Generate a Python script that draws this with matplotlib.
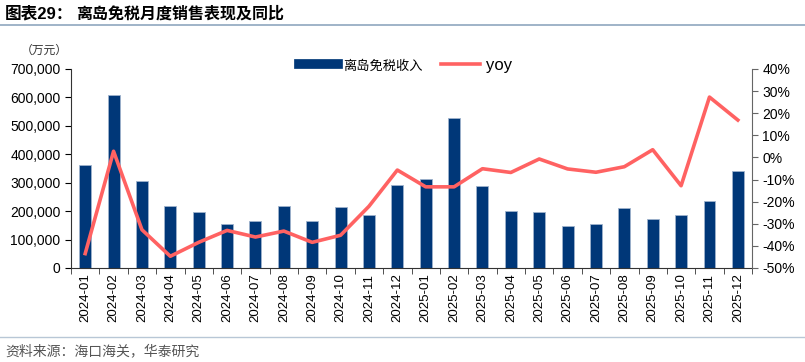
import matplotlib.pyplot as plt
from matplotlib.ticker import FuncFormatter, FixedLocator
from matplotlib.lines import Line2D
import numpy as np

plt.rcParams['font.family'] = ['Liberation Sans', 'Noto Sans CJK SC', 'DejaVu Sans']

# 数据
months = ['2024-01', '2024-02', '2024-03', '2024-04', '2024-05', '2024-06',
          '2024-07', '2024-08', '2024-09', '2024-10', '2024-11', '2024-12',
          '2025-01', '2025-02', '2025-03', '2025-04', '2025-05', '2025-06',
          '2025-07', '2025-08', '2025-09', '2025-10', '2025-11', '2025-12']
sales = [361000, 609000, 306000, 217000, 197000, 155000,
         166000, 219000, 166000, 215000, 188000, 292000,
         313000, 528000, 290000, 202000, 196000, 147000,
         156000, 210000, 172000, 186000, 237000, 341000]
yoy = [-43.5, 2.8, -32.7, -44.7, -38.4, -33.0,
       -36.0, -33.3, -38.4, -35.2, -22.1, -5.7,
       -13.3, -13.3, -5.1, -6.8, -0.7, -5.2,
       -6.7, -4.2, 3.5, -12.8, 27.3, 16.9]

bar_color = '#003778'
line_color = '#FF6262'

fig = plt.figure(figsize=(8.05, 3.62), dpi=100)
ax = fig.add_axes([0.0882, 0.2597, 0.8460, 0.5497])
ax2 = ax.twinx()

x = np.arange(len(months))
ax.bar(x, sales, width=0.42, color=bar_color, edgecolor='#9fb3cc', linewidth=0.6, zorder=2)
ax2.plot(x, yoy, color=line_color, linewidth=2.6, zorder=3)

ax.set_xlim(-0.5, len(months) - 0.5)
ax.set_ylim(0, 700000)
ax.set_yticks(np.arange(0, 700001, 100000))
ax.yaxis.set_major_formatter(FuncFormatter(lambda v, p: f'{int(v):,}'))
ax2.set_ylim(-50, 40)
ax2.set_yticks(np.arange(-50, 41, 10))
ax2.yaxis.set_major_formatter(FuncFormatter(lambda v, p: f'{int(v)}%'))

# x轴刻度在类别边界
ax.set_xticks(x)
ax.set_xticklabels(months, rotation=90, fontsize=9.5)
ax.tick_params(axis='x', length=0, pad=4)
ax.xaxis.set_minor_locator(FixedLocator(np.arange(-0.5, len(months), 1)))
ax.tick_params(axis='x', which='minor', length=4, color='#333333', direction='out')

ax.tick_params(axis='y', labelsize=10, length=4, direction='out')
ax2.tick_params(axis='y', labelsize=10, length=4, direction='out', color='#666666')

for a in (ax, ax2):
    a.spines['top'].set_visible(False)
ax.spines['right'].set_visible(False)
ax2.spines['left'].set_visible(False)
ax2.spines['bottom'].set_visible(False)
ax2.spines['right'].set_color('#666666')
ax.spines['left'].set_color('#333333')
ax.spines['bottom'].set_color('#333333')

# 图例
handles = [Line2D([0], [0], color=bar_color, linewidth=7),
           Line2D([0], [0], color=line_color, linewidth=2.6)]
leg = fig.legend(handles, ['离岛免税收入', 'yoy'], loc='center left', bbox_to_anchor=(0.372, 0.82),
                 ncol=2, frameon=False, fontsize=12, handlelength=2.3, columnspacing=1.1,
                 handletextpad=0.35, borderaxespad=0, borderpad=0)
leg.get_texts()[0].set_family(['Noto Sans CJK SC'])
leg.get_texts()[0].set_fontsize(9.5)

# 标题、单位、来源
fig.text(0.006, 0.962, '图表29：', fontsize=12, fontweight='bold', va='center',
         family=['Liberation Sans', 'Noto Sans CJK SC'])
fig.text(0.095, 0.962, '离岛免税月度销售表现及同比', fontsize=11.5, fontweight='bold', va='center',
         family=['Noto Sans CJK SC'])
fig.add_artist(Line2D([0, 1], [0.931, 0.931], color='#8fa7bf', linewidth=1.2, transform=fig.transFigure))
fig.text(0.026, 0.862, '（万元）', fontsize=8.5, va='center', color='#333333', family=['Noto Sans CJK SC'])
fig.add_artist(Line2D([0, 1], [0.070, 0.070], color='#b8c7d6', linewidth=1.0, transform=fig.transFigure))
fig.text(0.007, 0.029, '资料来源：海口海关，华泰研究', fontsize=10, va='center', color='#555555',
         family=['Noto Sans CJK SC'])

fig.savefig('out.png', dpi=100)
